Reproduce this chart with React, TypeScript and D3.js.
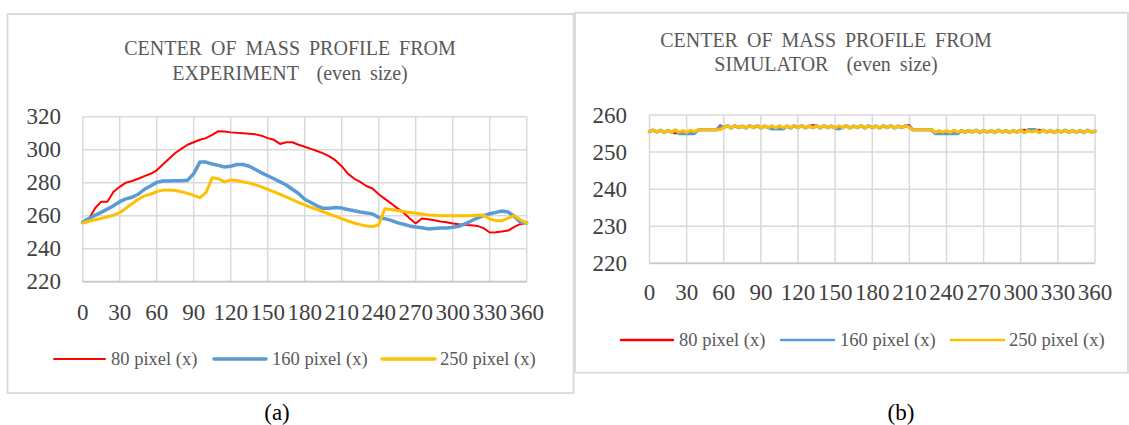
import React from 'react'
import * as d3 from 'd3'

// angle (deg) sampled for the experiment curves
const expAngles = [
  0, 5, 10, 15, 20, 25, 30, 35, 40, 45, 50, 55, 60, 65, 70, 75, 80, 85, 90, 95,
  100, 105, 110, 115, 120, 125, 130, 135, 140, 145, 150, 155, 160, 165, 170, 175, 180, 185, 190, 195,
  200, 205, 210, 215, 220, 225, 230, 235, 240, 245, 250, 255, 260, 265, 270, 275, 280, 285, 290, 295,
  300, 305, 310, 315, 320, 325, 330, 335, 340, 345, 350, 355, 360,
]

const exp80 = [
  256, 258, 264.5, 268.5, 268.5, 274.5, 277.5, 280, 281, 282.4, 284, 285.4, 287.5, 291, 294.5, 298, 300.5, 303, 304.5, 306,
  307, 309, 311.2, 311, 310.5, 310.2, 310, 309.7, 309.3, 308.5, 307, 306, 303.5, 304.5, 304.5, 303, 301.8, 300.5, 299.2, 297.8,
  296, 293.5, 290, 285.5, 282.5, 280.5, 278, 276.5, 273, 270.2, 267.5, 264.6, 262, 258.5, 255.3, 258.3, 257.8, 257.2, 256.5, 256,
  255.3, 254.8, 254.4, 254.2, 253.8, 252.5, 249.8, 250, 250.4, 251, 253.2, 255, 255.6,
]

const exp160 = [
  256, 258.3, 260.2, 262, 264, 266, 268.5, 270.2, 271.2, 273, 276, 278, 280.2, 281, 281, 281.2, 281.2, 281.5, 285.5, 292.5,
  292.5, 291.3, 290.5, 289.5, 290, 291, 291, 290, 288, 286, 284.2, 282.4, 280.5, 278.6, 276, 273.5, 270, 268, 266, 264.5,
  264.5, 265, 264.6, 263.8, 263, 262.2, 261.7, 261, 259, 258.2, 257.2, 255.8, 254.8, 253.8, 253.2, 252.7, 252, 252.3, 252.5, 252.6,
  253, 253.6, 255, 256.8, 258.6, 260, 261.2, 262, 262.8, 262.2, 259.5, 256, 255.6,
]

const exp250 = [
  255.6, 256.6, 257.5, 258.4, 259.4, 260.3, 261.8, 264.5, 267.2, 270, 272, 273, 274.6, 275.5, 275.6, 275.3, 274.5, 273.5, 272.3, 271,
  274, 283, 282.4, 280.5, 281.6, 281.3, 280.5, 279.8, 278.8, 277.5, 276, 274.5, 273, 271.4, 269.8, 268, 266.6, 265.1, 263.8, 262.4,
  261, 259.6, 258.2, 256.8, 255.6, 254.6, 253.8, 253.4, 254.5, 264.2, 263.8, 263.2, 262.5, 261.9, 261.5, 261, 260.5, 260.2, 260, 260,
  260, 260, 260, 260, 260.3, 260.4, 258, 257, 257, 258.5, 260, 257.5, 255.6,
]

// angle (deg) sampled for the simulator curves
const simAngles = [
  0, 3, 6, 9, 12, 15, 18, 21, 24, 27, 30, 33, 36, 39, 42, 45, 48, 51, 54, 57,
  60, 63, 66, 69, 72, 75, 78, 81, 84, 87, 90, 93, 96, 99, 102, 105, 108, 111, 114, 117,
  120, 123, 126, 129, 132, 135, 138, 141, 144, 147, 150, 153, 156, 159, 162, 165, 168, 171, 174, 177,
  180, 183, 186, 189, 192, 195, 198, 201, 204, 207, 210, 213, 216, 219, 222, 225, 228, 231, 234, 237,
  240, 243, 246, 249, 252, 255, 258, 261, 264, 267, 270, 273, 276, 279, 282, 285, 288, 291, 294, 297,
  300, 303, 306, 309, 312, 315, 318, 321, 324, 327, 330, 333, 336, 339, 342, 345, 348, 351, 354, 357,
  360,
]

const sim80 = [
  255.5, 255.9, 255.4, 255.9, 255.3, 255.8, 255.4, 255.0, 255.4, 255.8, 255.3, 255.9, 254.9, 255.9,
  256.0, 256.0, 256.0, 256.0, 256.0, 257.3,
  256.6, 257.1, 256.5, 257.1, 256.6, 257.0, 256.5, 257.1, 256.6, 257.1,
  256.5, 257.0, 256.6, 257.1, 256.5, 257.1, 256.6, 257.0, 256.5, 257.1,
  256.6, 257.1, 256.5, 257.0, 257.3, 257.1, 256.5, 257.1, 256.6, 257.0,
  256.5, 257.1, 256.6, 257.1, 256.5, 257.0, 256.6, 257.1, 256.5, 257.1,
  256.6, 257.0, 256.5, 257.1, 256.6, 257.1, 256.5, 257.0, 256.6, 257.1,
  257.3,
  256.0, 256.0, 256.0, 256.0, 256.0, 256.0,
  255.3, 255.0, 255.4, 255.8, 255.3, 255.9, 255.4, 255.8, 255.3, 255.8,
  255.4, 255.9, 255.3, 255.8, 255.4, 255.8, 255.3, 255.9, 255.4, 255.8,
  255.3, 255.8, 255.4, 255.9, 256.0, 255.8, 255.4, 255.8, 256.0, 255.9,
  255.4, 255.8, 255.3, 255.8, 255.4, 255.9, 255.3, 255.8, 255.4, 255.8,
  255.3, 255.9, 255.4, 255.6,
]

const sim160 = [
  255.5, 255.9, 255.4, 255.9, 255.3, 255.8, 255.4, 255.9, 255.0, 255.1, 255.0, 255.1, 255.0, 255.9,
  256.0, 256.0, 256.0, 256.0, 256.0, 256.8,
  256.6, 257.1, 256.5, 257.1, 256.6, 257.0, 256.5, 257.1, 256.6, 257.1,
  256.5, 257.0, 256.6, 256.3, 256.3, 256.3, 256.3, 257.0, 256.5, 257.1,
  256.6, 257.1, 256.5, 257.0, 256.6, 257.1, 256.5, 257.1, 256.6, 257.0,
  256.5, 256.3, 256.6, 257.1, 256.5, 257.0, 256.6, 257.1, 256.5, 257.1,
  256.6, 257.0, 256.5, 257.1, 256.6, 257.1, 256.5, 257.0, 256.6, 257.1,
  256.8,
  256.0, 256.0, 256.0, 256.0, 256.0, 256.0,
  255.0, 255.1, 255.0, 255.1, 255.0, 255.1, 255.0, 255.8, 255.3, 255.8,
  255.4, 255.9, 255.3, 255.8, 255.4, 255.8, 255.3, 255.9, 255.4, 255.8,
  255.3, 255.8, 255.4, 255.9, 255.3, 256.0, 256.0, 256.0, 255.3, 255.9,
  255.4, 255.8, 255.3, 255.8, 255.4, 255.9, 255.3, 255.8, 255.4, 255.8,
  255.3, 255.9, 255.4, 255.6,
]

const sim250 = [
  255.5, 255.9, 255.4, 255.9, 255.3, 255.8, 255.4, 255.9, 255.4, 255.8, 255.3, 255.9, 255.5, 255.9,
  256.0, 256.0, 256.0, 256.0, 256.0, 256.0,
  256.6, 257.1, 256.5, 257.1, 256.6, 257.0, 256.5, 257.1, 256.6, 257.1,
  256.5, 257.0, 256.6, 257.1, 256.5, 257.1, 256.6, 257.0, 256.5, 257.1,
  256.6, 257.1, 256.5, 257.0, 256.6, 257.1, 256.5, 257.1, 256.6, 257.0,
  256.5, 257.1, 256.6, 257.1, 256.5, 257.0, 256.6, 257.1, 256.5, 257.1,
  256.6, 257.0, 256.5, 257.1, 256.6, 257.1, 256.5, 257.0, 256.6, 257.1,
  256.6,
  256.0, 256.0, 256.0, 256.0, 256.0, 256.0,
  255.3, 255.8, 255.4, 255.8, 255.3, 255.9, 255.4, 255.8, 255.3, 255.8,
  255.4, 255.9, 255.3, 255.8, 255.4, 255.8, 255.3, 255.9, 255.4, 255.8,
  255.3, 255.8, 255.4, 255.9, 255.3, 255.8, 255.4, 255.8, 255.3, 255.9,
  255.4, 255.8, 255.3, 255.8, 255.4, 255.9, 255.3, 255.8, 255.4, 255.8,
  255.3, 255.9, 255.4, 255.6,
]

const xTicks = [0, 30, 60, 90, 120, 150, 180, 210, 240, 270, 300, 330, 360]
const expYTicks = [220, 240, 260, 280, 300, 320]
const simYTicks = [220, 230, 240, 250, 260]
const legendLabels = ['80 pixel (x)', '160 pixel (x)', '250 pixel (x)']
const expTitle = ['CENTER OF MASS PROFILE FROM', 'EXPERIMENT  (even size)']
const simTitle = ['CENTER OF MASS PROFILE FROM', 'SIMULATOR  (even size)']

const COLORS = ['#ff0000', '#5b9bd5', '#ffc000']
const WIDTHS = [2, 3.5, 3]
const GRID = '#d9d9d9'
const TEXT = '#595959'
const serif = { fontFamily: "'Liberation Serif'" }

interface PanelProps {
  frame: { x: number; y: number; w: number; h: number }
  plot: { left: number; right: number; top: number; bottom: number }
  yTicks: number[]
  angles: number[]
  series: number[][]
  title: string[]
  titleX: number
  titleY: number[]
  yLabelX: number
  xLabelY: number
  legendY: number
  legendX: number[][]
  legendWidths: number[]
  caption: string
  captionX: number
}

function Panel(p: PanelProps) {
  const x = d3.scaleLinear().domain([0, 360]).range([p.plot.left, p.plot.right])
  const y = d3
    .scaleLinear()
    .domain([p.yTicks[0], p.yTicks[p.yTicks.length - 1]])
    .range([p.plot.bottom, p.plot.top])

  const makeLine = (vals: number[]) =>
    d3
      .line<number>()
      .x((_, i) => x(p.angles[i]))
      .y(d => y(d))(vals) || ''

  return (
    <g>
      <rect
        x={p.frame.x}
        y={p.frame.y}
        width={p.frame.w}
        height={p.frame.h}
        fill="#fff"
        stroke={GRID}
        strokeWidth={1.8}
      />
      {p.title.map((t, i) => (
        <text
          key={i}
          x={p.titleX}
          y={p.titleY[i]}
          textAnchor="middle"
          fontSize={20}
          wordSpacing={4}
          fill={TEXT}
          style={{ ...serif, whiteSpace: 'pre' }}
        >
          {t}
        </text>
      ))}
      {/* grid */}
      {xTicks.map(t => (
        <line key={'gx' + t} x1={x(t)} x2={x(t)} y1={p.plot.top} y2={p.plot.bottom} stroke={GRID} strokeWidth={1.5} />
      ))}
      {p.yTicks.map(t => (
        <line key={'gy' + t} x1={p.plot.left} x2={p.plot.right} y1={y(t)} y2={y(t)} stroke={GRID} strokeWidth={1.5} />
      ))}
      <line x1={p.plot.left} x2={p.plot.right} y1={p.plot.bottom} y2={p.plot.bottom} stroke="#c8c8c8" strokeWidth={1.8} />
      {/* tick labels */}
      {p.yTicks.map(t => (
        <text key={'ly' + t} x={p.yLabelX} y={y(t) + 7.6} textAnchor="end" fontSize={23} fill="#404040" style={serif}>
          {t}
        </text>
      ))}
      {xTicks.map(t => (
        <text key={'lx' + t} x={x(t)} y={p.xLabelY} textAnchor="middle" fontSize={23} fill="#404040" style={serif}>
          {t}
        </text>
      ))}
      {/* series */}
      {p.series.map((s, i) => (
        <path
          key={'s' + i}
          d={makeLine(s)}
          fill="none"
          stroke={COLORS[i]}
          strokeWidth={WIDTHS[i]}
          strokeLinejoin="round"
          strokeLinecap="round"
        />
      ))}
      {/* legend */}
      {legendLabels.map((lab, i) => (
        <g key={'lg' + i}>
          <line
            x1={p.legendX[i][0]}
            x2={p.legendX[i][1]}
            y1={p.legendY}
            y2={p.legendY}
            stroke={COLORS[i]}
            strokeWidth={p.legendWidths[i]}
            strokeLinecap="round"
          />
          <text x={p.legendX[i][2]} y={p.legendY + 6} fontSize={18.5} fill={TEXT} style={serif}>
            {lab}
          </text>
        </g>
      ))}
      <text x={p.captionX} y={420} textAnchor="middle" fontSize={23} fill="#000" style={serif}>
        {p.caption}
      </text>
    </g>
  )
}

export default function App() {
  return (
    <svg width={1129} height={425} style={{ position: 'absolute', left: 0, top: 0, background: '#fff' }}>
      <rect x={0} y={0} width={1129} height={425} fill="#fff" />
      <Panel
        frame={{ x: 7.5, y: 14, w: 566, h: 379 }}
        plot={{ left: 82.7, right: 526.7, top: 116.7, bottom: 281.7 }}
        yTicks={expYTicks}
        angles={expAngles}
        series={[exp80, exp160, exp250]}
        title={expTitle}
        titleX={290}
        titleY={[55, 80]}
        yLabelX={61}
        xLabelY={320}
        legendY={359}
        legendX={[
          [54, 105, 111],
          [214, 266, 272],
          [382, 435, 440],
        ]}
        legendWidths={[2, 3.5, 3.5]}
        caption="(a)"
        captionX={277}
      />
      <Panel
        frame={{ x: 575, y: 12.7, w: 553, h: 360 }}
        plot={{ left: 649.5, right: 1095, top: 115, bottom: 263.3 }}
        yTicks={simYTicks}
        angles={simAngles}
        series={[sim80, sim160, sim250]}
        title={simTitle}
        titleX={826}
        titleY={[47, 71]}
        yLabelX={627}
        xLabelY={300}
        legendY={340}
        legendX={[
          [621, 673, 679],
          [781, 834, 840],
          [951, 1004, 1009],
        ]}
        legendWidths={[2.5, 2.5, 2.5]}
        caption="(b)"
        captionX={901}
      />
    </svg>
  )
}
